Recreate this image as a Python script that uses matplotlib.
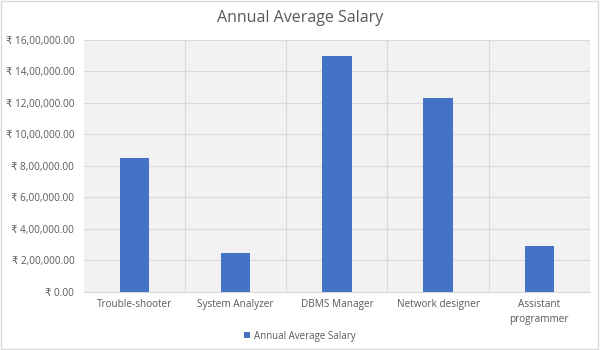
import matplotlib
matplotlib.use("Agg")
import matplotlib.pyplot as plt
from matplotlib.ticker import FuncFormatter, MultipleLocator
from matplotlib.patches import Rectangle

plt.rcParams['font.family'] = ['Open Sans', 'DejaVu Sans']

categories = ["Trouble-shooter", "System Analyzer", "DBMS Manager", "Network designer", "Assistant\nprogrammer"]
salaries = [850000, 250000, 1500000, 1230000, 290000]
series_name = "Annual Average Salary"


def indian_fmt(v, pos=None):
    v = int(round(v))
    if v == 0:
        return "₹ 0.00"
    s = str(v)
    last3 = s[-3:]
    rest = s[:-3]
    parts = []
    while len(rest) > 2:
        parts.insert(0, rest[-2:])
        rest = rest[:-2]
    if rest:
        parts.insert(0, rest)
    return "₹ " + ",".join(parts + [last3]) + ".00"


fig = plt.figure(figsize=(6, 3.5), dpi=100)
fig.patch.set_facecolor('white')
fig.add_artist(Rectangle((0.002, 0.003), 0.995, 0.993, transform=fig.transFigure,
                         fill=False, edgecolor='#d9d9d9', linewidth=1))
ax = fig.add_axes([0.14, 0.166, 0.843, 0.72])
ax.set_facecolor('#f2f2f2')

x = list(range(len(categories)))
ax.bar(x, salaries, width=0.29, color='#4472c4', zorder=3, label=series_name)

ax.set_xlim(-0.5, len(categories) - 0.5)
ax.set_ylim(0, 1600000)
ax.yaxis.set_major_locator(MultipleLocator(200000))
ax.yaxis.set_major_formatter(FuncFormatter(indian_fmt))
ax.grid(axis='y', color='#d9d9d9', linewidth=0.8, zorder=0)
for b in range(1, len(categories)):
    ax.axvline(b - 0.5, color='#d9d9d9', linewidth=0.8, zorder=0)

ax.set_xticks(x)
ax.set_xticklabels(categories, fontsize=7.2, color='#595959', linespacing=1.5)
ax.tick_params(axis='x', length=0, pad=5)
ax.tick_params(axis='y', length=0, labelsize=7.2, labelcolor='#595959', pad=7)
for s in ['top', 'right', 'left']:
    ax.spines[s].set_visible(False)
ax.spines['bottom'].set_color('#d9d9d9')

fig.text(0.5, 0.95, "Annual Average Salary", ha='center', va='center', fontsize=11.5, color='#595959')

fig.legend(loc='center', bbox_to_anchor=(0.5, 0.04), frameon=False, fontsize=7,
           handlelength=0.6, handleheight=0.6, handletextpad=0.4, labelcolor='#595959')

fig.savefig("out.png", dpi=100)
